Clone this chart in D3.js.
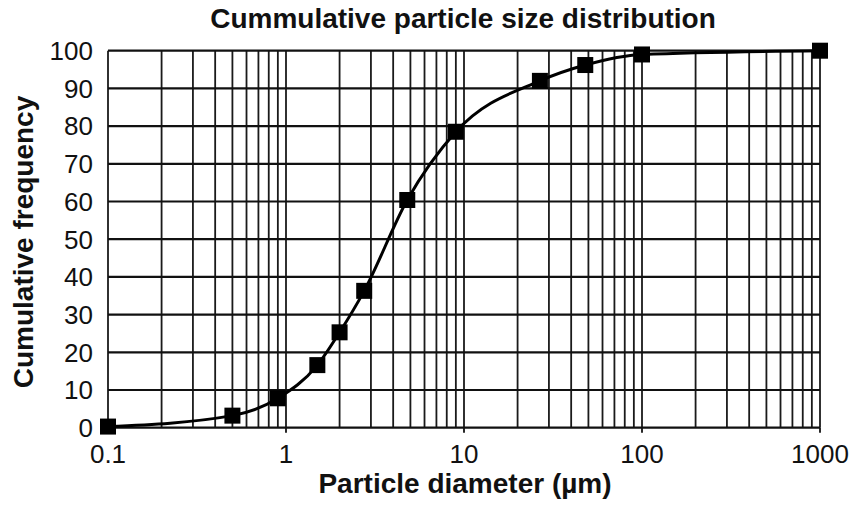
<!DOCTYPE html>
<html>
<head>
<meta charset="utf-8">
<script src="https://cdn.jsdelivr.net/npm/d3@7"></script>
<style>
  body { margin: 0; background: #fff; }
  svg { font-family: "Liberation Sans", Arial, sans-serif; }
</style>
</head>
<body>
<svg id="chart" width="855" height="506"></svg>
<script>
// particle size data
var diameters = [0.1, 0.5, 0.9, 1.5, 2, 2.75, 4.8, 9, 26.7, 48, 100, 1000];
var cumFreq   = [0.3, 3.2, 7.8, 16.6, 25.3, 36.3, 60.4, 78.5, 92, 96.2, 99, 100];
var yTicks = [0, 10, 20, 30, 40, 50, 60, 70, 80, 90, 100];
var xTicks = [0.1, 1, 10, 100, 1000];
var xTickLabels = ["0.1", "1", "10", "100", "1000"];

var plotLeft = 108, plotRight = 820, plotTop = 50.7, plotBottom = 427.7;

var svg = d3.select('#chart');

var x = d3.scaleLog().domain([0.1, 1000]).range([plotLeft, plotRight]);
var y = d3.scaleLinear().domain([0, 100]).range([plotBottom, plotTop]);

// minor vertical grid (2..9 of each decade)
var minor = [];
[0.1, 1, 10, 100].forEach(function(dec){
  for (var k = 2; k <= 9; k++) minor.push(dec*k);
});

var grid = svg.append('g').attr('class', 'grid');

grid.selectAll('.vline')
  .data(minor.concat(xTicks))
  .enter().append('line')
  .attr('x1', d=>x(d)).attr('x2', d=>x(d))
  .attr('y1', plotTop).attr('y2', plotBottom)
  .attr('stroke', '#1a1a1a')
  .attr('stroke-width', 1.8);

grid.selectAll('.hline')
  .data(yTicks)
  .enter().append('line')
  .attr('x1', plotLeft).attr('x2', plotRight)
  .attr('y1', d=>y(d)).attr('y2', d=>y(d))
  .attr('stroke', '#111')
  .attr('stroke-width', 2.2);

// small tick marks under the x axis
svg.selectAll('.xtick')
  .data(xTicks)
  .enter().append('line')
  .attr('x1', d=>x(d)).attr('x2', d=>x(d))
  .attr('y1', plotBottom).attr('y2', plotBottom+5)
  .attr('stroke', '#111')
  .attr('stroke-width', 1.8);

// y tick labels
svg.selectAll('.ylab')
  .data(yTicks)
  .enter().append('text')
  .attr('x', 93)
  .attr('y', d=>y(d))
  .attr('dy', '0.36em')
  .attr('text-anchor', 'end')
  .attr('font-size', '26px')
  .attr('fill', '#111')
  .text(d=>d);

// x tick labels
svg.selectAll('.xlab')
  .data(xTicks)
  .enter().append('text')
  .attr('x', d=>x(d))
  .attr('y', 463)
  .attr('text-anchor', 'middle')
  .attr('font-size', '26px')
  .attr('fill', '#111')
  .text((d,i)=>xTickLabels[i]);

// data line
var pts = diameters.map((d,i)=>({d:d, f:cumFreq[i]}));

var line = d3.line()
  .x(p=>x(p.d))
  .y(p=>y(p.f))
  .curve(d3.curveMonotoneX);

svg.append('path')
  .datum(pts)
  .attr('d', line)
  .attr('fill', 'none')
  .attr('stroke', '#000')
  .attr('stroke-width', 3);

var size = 16;
svg.selectAll('.marker')
  .data(pts)
  .enter().append('rect')
  .attr('x', p=>x(p.d)-size/2)
  .attr('y', p=>y(p.f)-size/2)
  .attr('width', size)
  .attr('height', size)
  .attr('fill', '#000');

// titles
svg.append('text')
  .attr('x', 463).attr('y', 28)
  .attr('text-anchor', 'middle')
  .attr('font-size', '28px')
  .attr('font-weight', 'bold')
  .attr('fill', '#111')
  .text('Cummulative particle size distribution');

svg.append('text')
  .attr('x', 465).attr('y', 493)
  .attr('text-anchor', 'middle')
  .attr('font-size', '28px')
  .attr('font-weight', 'bold')
  .attr('fill', '#111')
  .text('Particle diameter (\u00b5m)');

svg.append('text')
  .attr('transform', 'translate(33,242) rotate(-90)')
  .attr('text-anchor', 'middle')
  .attr('font-size', '28px')
  .attr('font-weight', 'bold')
  .attr('fill', '#111')
  .text('Cumulative frequency');
</script>
</body>
</html>
